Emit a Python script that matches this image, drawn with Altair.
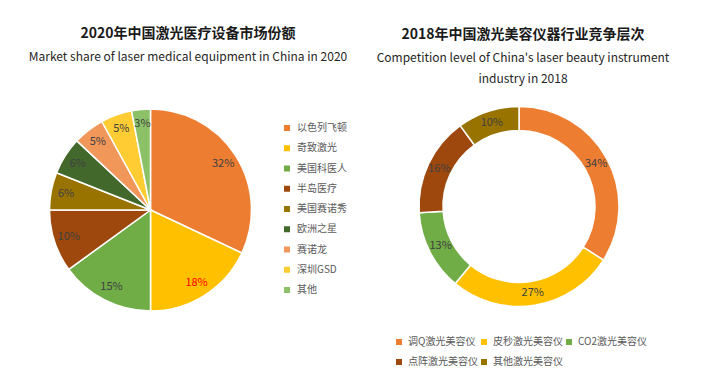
import altair as alt
import pandas as pd

FONT = "Noto Sans CJK SC"

# Left pie: 2020 market share
pie_cats = ["以色列飞顿", "奇致激光", "美国科医人", "半岛医疗", "美国赛诺秀", "欧洲之星", "赛诺龙", "深圳GSD", "其他"]
pie_vals = [32, 18, 15, 10, 6, 6, 5, 5, 3]
pie_colors = ["#ED7D31", "#FFC000", "#70AD47", "#9E480E", "#997300", "#43682B", "#F1975A", "#FFCD33", "#8CC168"]
pie_label_colors = ["#404040", "#FF0000", "#404040", "#404040", "#404040", "#404040", "#404040", "#404040", "#404040"]

# Right donut: 2018 competition level
donut_cats = ["调Q激光美容仪", "皮秒激光美容仪", "CO2激光美容仪", "点阵激光美容仪", "其他激光美容仪"]
donut_vals = [34, 27, 13, 16, 10]
donut_colors = ["#ED7D31", "#FFC000", "#70AD47", "#9E480E", "#997300"]

left_title = "2020年中国激光医疗设备市场份额"
left_sub = "Market share of laser medical equipment in China in 2020"
right_title = "2018年中国激光美容仪器行业竞争层次"
right_sub1 = "Competition level of China's laser beauty instrument"
right_sub2 = "industry in 2018"

pie_df = pd.DataFrame({
    "cat": pie_cats, "v": pie_vals, "idx": list(range(len(pie_cats))),
    "lbl": [f"{v}%" for v in pie_vals], "lc": pie_label_colors,
})
donut_df = pd.DataFrame({
    "cat": donut_cats, "v": donut_vals, "idx": list(range(len(donut_cats))),
    "lbl": [f"{v}%" for v in donut_vals],
})

PCX, PCY = 142.5, 202
DCX, DCY = 511, 198.5

pie_base = alt.Chart(pie_df).encode(
    theta=alt.Theta("v:Q", stack=True),
    order=alt.Order("idx:Q"),
    x=alt.value(PCX), y=alt.value(PCY),
)
pie_arc = pie_base.mark_arc(outerRadius=101, stroke="white", strokeWidth=1.5).encode(
    color=alt.Color("cat:N", scale=alt.Scale(domain=pie_cats, range=pie_colors),
                    legend=alt.Legend(title=None, orient="none", legendX=274, legendY=115,
                                      symbolType="square", symbolSize=36, symbolStrokeWidth=0,
                                      labelFont=FONT, labelFontSize=10, labelColor="#595959",
                                      labelOffset=5, rowPadding=10.25, padding=0))
)
pie_txt = pie_base.mark_text(radius=86, font=FONT, fontSize=11).encode(
    text="lbl:N", color=alt.Color("lc:N", scale=None)
)

donut_base = alt.Chart(donut_df).encode(
    theta=alt.Theta("v:Q", stack=True),
    order=alt.Order("idx:Q"),
    x=alt.value(DCX), y=alt.value(DCY),
)
donut_arc = donut_base.mark_arc(innerRadius=76, outerRadius=100, stroke="white", strokeWidth=1.5).encode(
    color=alt.Color("cat:N", scale=alt.Scale(domain=donut_cats, range=donut_colors),
                    legend=alt.Legend(title=None, orient="none", legendX=386, legendY=329,
                                      direction="horizontal", columns=3,
                                      symbolType="square", symbolSize=36, symbolStrokeWidth=0,
                                      labelFont=FONT, labelFontSize=10, labelColor="#595959",
                                      labelOffset=4, rowPadding=10, columnPadding=1, padding=0))
)
donut_txt = donut_base.mark_text(radius=88, font=FONT, fontSize=11, color="#404040").encode(text="lbl:N")


def title_layer(txt, x, y, size, bold, color):
    return alt.Chart(pd.DataFrame({"t": [txt]})).mark_text(
        font=FONT, fontSize=size, fontWeight="bold" if bold else "normal",
        color=color, align="center", baseline="middle"
    ).encode(text="t:N", x=alt.value(x), y=alt.value(y))


titles = [
    title_layer(left_title, 180, 26, 14, True, "#1a1a1a"),
    title_layer(left_sub, 180, 49, 12, False, "#262626"),
    title_layer(right_title, 515, 27, 14, True, "#1a1a1a"),
    title_layer(right_sub1, 515, 50, 12, False, "#262626"),
    title_layer(right_sub2, 515, 71, 12, False, "#262626"),
]

chart = alt.layer(pie_arc, pie_txt, donut_arc, donut_txt, *titles).resolve_scale(
    color="independent", theta="independent"
).properties(
    width=693, height=361, padding=0, autosize=alt.AutoSizeParams(type="none")
).configure_view(stroke=None)

chart.save("out.html", embed_options={"renderer": "svg", "actions": False})
